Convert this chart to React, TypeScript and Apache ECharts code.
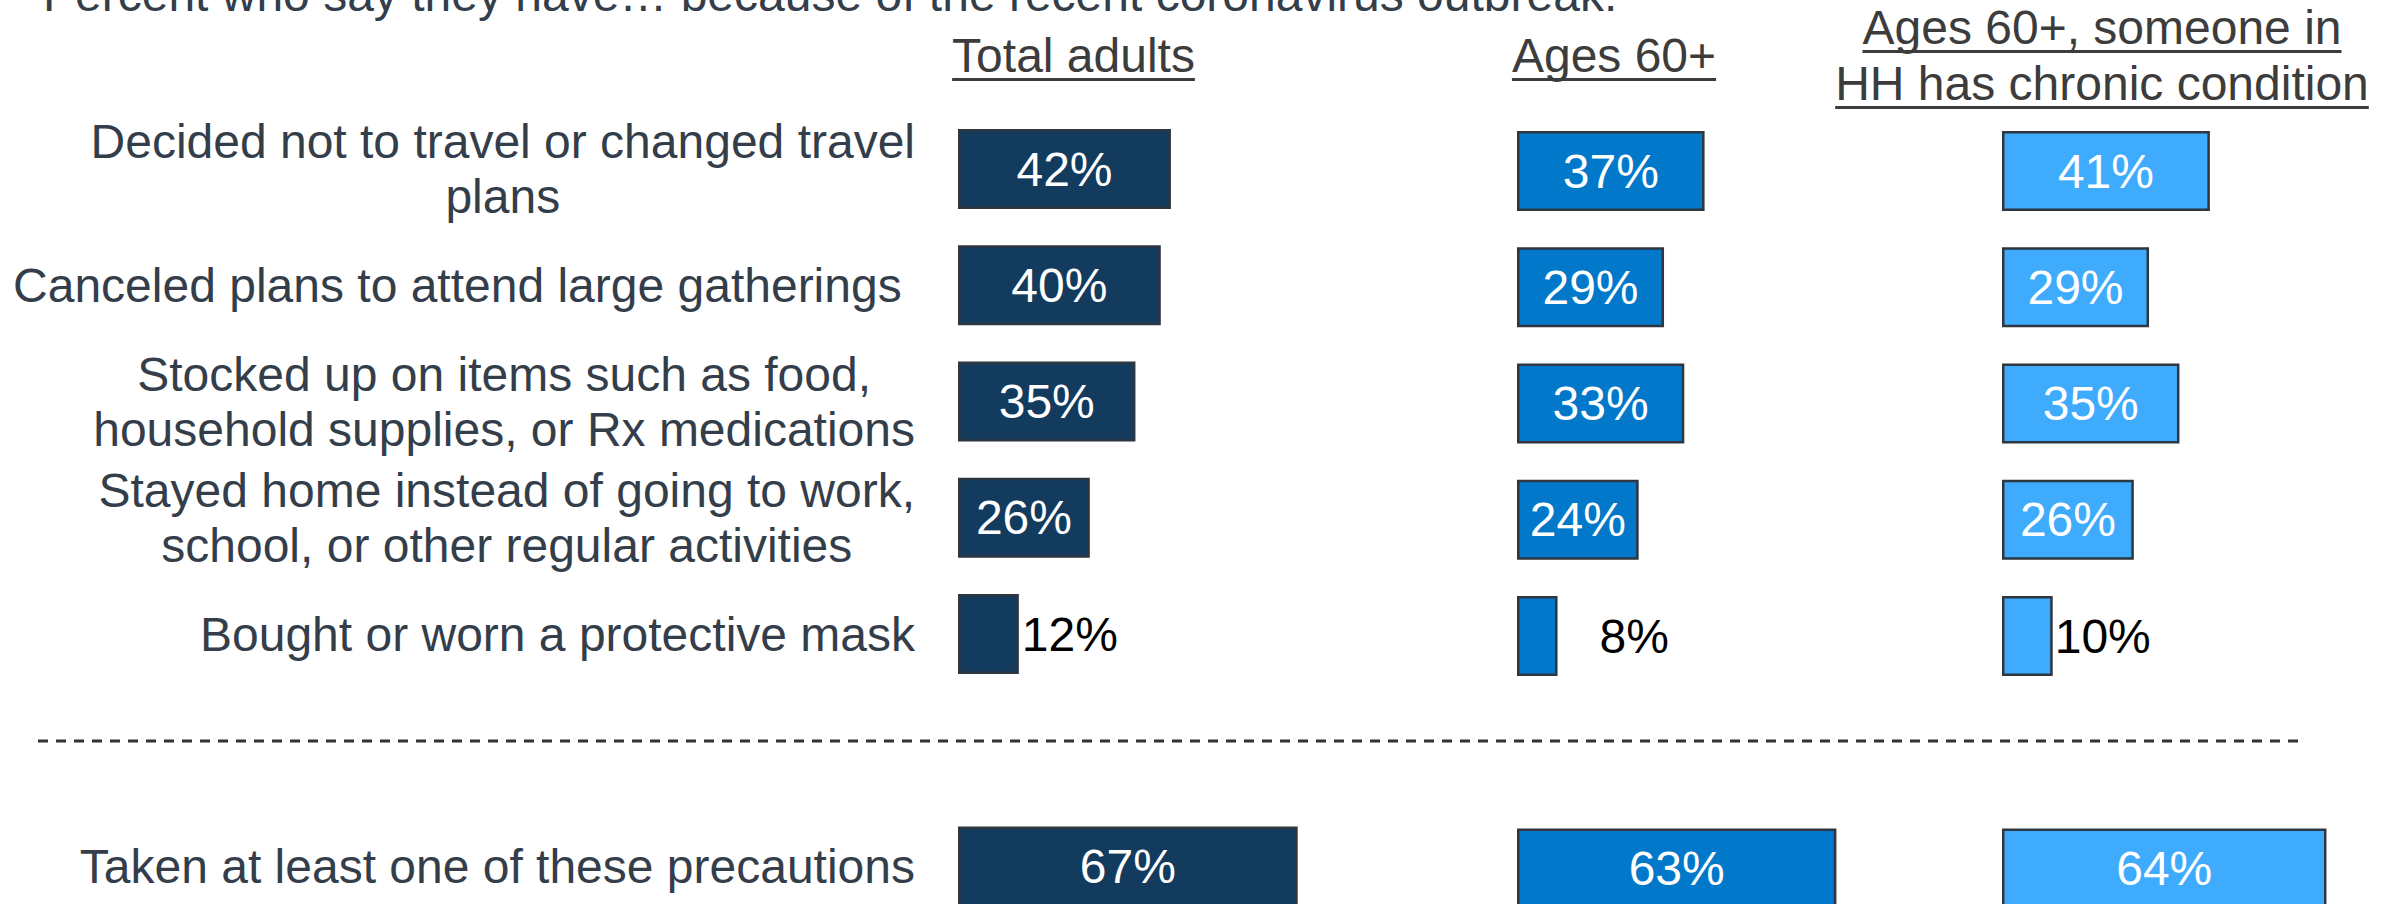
import React, { useEffect, useRef } from "react";
import * as echarts from "echarts";

const categories = [
  "Decided not to travel or changed travel\nplans",
  "Canceled plans to attend large gatherings\u00a0",
  "Stocked up on items such as food,\nhousehold supplies, or Rx medications",
  "Stayed home instead of going to work,\nschool, or other regular activities",
  "Bought or worn a protective mask",
  "",
  "Taken at least one of these precautions",
];

const totalAdults = [42, 40, 35, 26, 12, null, 67];
const ages60 = [37, 29, 33, 24, 8, null, 63];
const ages60Chronic = [41, 29, 35, 26, 10, null, 64];

const groupTitles = ["Total adults", "Ages 60+", "Ages 60+, someone in\nHH has chronic condition"];
const titleText = "Percent who say they have\u2026 because of the recent coronavirus outbreak:";

const FONT = "'Liberation Sans', Arial, Helvetica, sans-serif";
const COLORS = ["#133B5E", "#0178C9", "#3FABFD"];
const LABEL_COLOR = "#343E4A";
const HEADER_COLOR = "#3C3C3C";

function measure(text: string, size: number): number {
  const c = document.createElement("canvas").getContext("2d");
  if (!c) return text.length * size * 0.5;
  c.font = `${size}px ${FONT}`;
  return c.measureText(text).width;
}

export default function App() {
  const ref = useRef<HTMLDivElement>(null);

  useEffect(() => {
    if (!ref.current) return;
    const chart = echarts.init(ref.current, undefined, { renderer: "svg" });

    const lefts = [958, 1517, 2002];
    const tops = [110.9, 112.9, 112.9];
    const band = 116.25;
    const axisMax = 78;
    const gridW = axisMax * 5.07;

    const seriesData = [totalAdults, ages60, ages60Chronic];
    const smallLabelDistance: Record<number, number> = { 12: 3, 8: 42, 10: 2 };

    const grids = lefts.map((l, i) => ({
      left: l,
      top: tops[i],
      width: gridW,
      height: band * categories.length,
      containLabel: false,
    }));

    const xAxes = lefts.map((_, i) => ({
      type: "value",
      gridIndex: i,
      min: 0,
      max: axisMax,
      show: false,
    }));

    const yAxes = lefts.map((_, i) => ({
      type: "category",
      gridIndex: i,
      data: categories,
      inverse: true,
      axisLine: { show: false },
      axisTick: { show: false },
      splitLine: { show: false },
      axisLabel: {
        show: i === 0,
        interval: 0,
        margin: 43,
        align: "right",
        formatter: (v: string) =>
          v ? v.split("\n").map((line) => `{c|${line}}`).join("\n") : "",
        rich: {
          c: {
            fontSize: 48,
            lineHeight: 55,
            align: "center",
            color: LABEL_COLOR,
            fontFamily: FONT,
          },
        },
      },
    }));

    const series = seriesData.map((arr, i) => ({
      type: "bar",
      xAxisIndex: i,
      yAxisIndex: i,
      barWidth: 80,
      itemStyle: { color: COLORS[i], borderColor: "#2E3640", borderWidth: 2.5 },
      label: {
        show: true,
        position: "inside",
        color: "#FFFFFF",
        fontSize: 48,
        fontFamily: FONT,
        formatter: (p: any) => `${p.value}%`,
      },
      data: arr.map((v) => {
        if (v === null) return "-";
        if (v < 20) {
          return {
            value: v,
            label: {
              show: true,
              position: "right",
              distance: smallLabelDistance[v] ?? 3,
              color: "#000000",
              fontSize: 48,
              fontFamily: FONT,
            },
          };
        }
        return v;
      }),
    }));

    const headerCenters = [1073.5, 1614, 2102];
    const headerMidY = [55, 55, 55];
    const lineH = 56;
    const graphics: any[] = [];
    groupTitles.forEach((t, i) => {
      const lines = t.split("\n");
      const n = lines.length;
      lines.forEach((line, j) => {
        const cy = headerMidY[i] + (j - (n - 1) / 2) * lineH;
        graphics.push({
          type: "text",
          x: headerCenters[i],
          y: cy,
          style: {
            text: line,
            fontSize: 48,
            fontFamily: FONT,
            fill: HEADER_COLOR,
            align: "center",
            verticalAlign: "middle",
          },
        });
        const w = measure(line, 48);
        const uy = cy + 23;
        graphics.push({
          type: "rect",
          shape: { x: headerCenters[i] - w / 2, y: uy, width: w, height: 3 },
          style: { fill: HEADER_COLOR },
        });
      });
    });

    graphics.push({
      type: "text",
      x: 43,
      y: -6,
      style: {
        text: titleText,
        fontSize: 48,
        fontFamily: FONT,
        fill: LABEL_COLOR,
        align: "left",
        verticalAlign: "middle",
      },
    });

    graphics.push({
      type: "line",
      shape: { x1: 38, y1: 741, x2: 2299, y2: 741 },
      style: { stroke: "#333333", lineWidth: 3, lineDash: [10, 8] },
    });

    chart.setOption({
      animation: false,
      backgroundColor: "#FFFFFF",
      grid: grids,
      xAxis: xAxes,
      yAxis: yAxes,
      series,
      graphic: graphics,
    });

    return () => chart.dispose();
  }, []);

  return (
    <div
      ref={ref}
      style={{ position: "fixed", left: 0, top: 0, width: 2400, height: 960 }}
    />
  );
}
